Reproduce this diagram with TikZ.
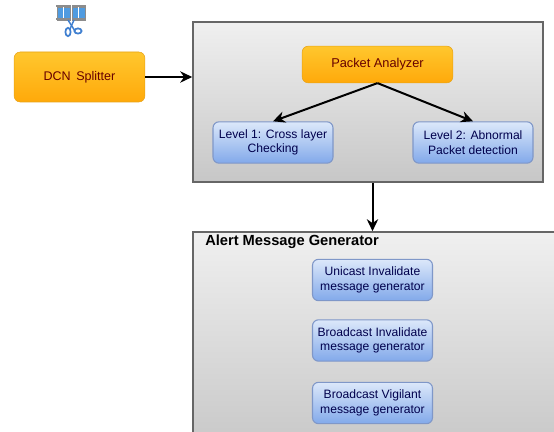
\documentclass[tikz,border=0pt]{standalone}
\usepackage{fontspec}
\setmainfont{Liberation Sans}
\usetikzlibrary{arrows.meta}
\definecolor{orangetop}{HTML}{FFC72E}
\definecolor{orangelow}{HTML}{FFA90A}
\definecolor{orangeline}{HTML}{E8A317}
\definecolor{bluetop}{HTML}{DCE8FA}
\definecolor{bluelow}{HTML}{82A9EA}
\definecolor{blueline}{HTML}{7F97C8}
\definecolor{filmblue}{HTML}{4F9BE0}
\definecolor{cutblue}{HTML}{3F7FD0}

\begin{document}
\begin{tikzpicture}[
  x=0.75pt, y=0.75pt,
  orangebox/.style={draw=orangeline, rounded corners=4.5pt, inner sep=0pt, top color=orangetop, bottom color=orangelow, text=red!40!black, align=center},
  bluebox/.style={draw=blueline, line width=0.8pt, rounded corners=4.5pt, inner sep=0pt, top color=bluetop, bottom color=bluelow, text=blue!30!black, align=center, font=\fontsize{9.1pt}{11pt}\selectfont, minimum width=90pt, minimum height=31pt},
  greybox/.style={draw=black!60, line width=1.2pt, inner sep=0pt, top color=black!6, bottom color=black!22},
  link/.style={draw=black, line width=1.5pt, -{Stealth[length=9pt,width=8.5pt]}},
  film/.style={fill=filmblue, draw=black!45, line width=0.5pt},
]

\clip (0,0) rectangle (554,432);
\fill [white] (0,0) rectangle (554,432);

% containers
\node [greybox, minimum width=262.5pt, minimum height=120pt] (analyzerbox) at (368,330) {};
\node [greybox, minimum width=300pt, minimum height=165pt] (alertbox) at (393,90) {};
\node [anchor=west, inner sep=0pt, font=\fontsize{11pt}{12pt}\selectfont\bfseries] (alerttitle) at (205,190) {Alert Message Generator};

% splitter icon
\begin{scope}[shift={(56,406)}]
	\draw [film] (1,6) rectangle (14,19);
	\draw [film] (16,6) rectangle (29,19);
	\fill [black!45] (0,19) rectangle (14.5,21);
	\fill [black!45] (15.5,19) rectangle (30,21);
	\fill [black!45] (0,6) rectangle (14.5,8);
	\fill [black!45] (15.5,6) rectangle (30,8);
	\draw [white, line width=0.6pt] (7.5,8) -- (7.5,19);
	\draw [white, line width=0.6pt] (22.5,8) -- (22.5,19);
	\draw [cutblue, line width=1.1pt] (12,6) -- (19,-5);
	\draw [cutblue, line width=1.1pt] (18,6) -- (14,-3);
	\draw [cutblue, line width=1.3pt] (12,-6) circle [x radius=2.6, y radius=4.2];
	\draw [cutblue, line width=1.3pt] (22,-5) circle [x radius=3.6, y radius=2.6];
\end{scope}

% boxes
\node [orangebox, minimum width=98pt, minimum height=37.5pt, font=\fontsize{9.4pt}{11pt}\selectfont] (splitter) at (79.5,355) {DCN\, Splitter};
\node [orangebox, minimum width=113pt, minimum height=27.5pt, font=\fontsize{9.6pt}{11pt}\selectfont] (analyzer) at (377.5,367.5) {Packet Analyzer};

\node [bluebox] (levelone) at (273,289.5) {Level 1: Cross layer\\Checking};
\node [bluebox] (leveltwo) at (473,289.5) {Level 2: Abnormal\\Packet detection};

\node [bluebox] (unicast) at (372.5,152) {Unicast Invalidate\\message generator};
\node [bluebox] (broadinv) at (372.5,91.5) {Broadcast Invalidate\\message generator};
\node [bluebox] (broadvig) at (372.5,29) {Broadcast Vigilant\\message generator};

% connectors
\draw [link] (splitter.east) -- (splitter.east -| analyzerbox.west);
\draw [link] (analyzer.south) -- (levelone.north);
\draw [link] (analyzer.south) -- (leveltwo.north);
\draw [link] (analyzerbox.south -| unicast.north) -- (alertbox.north -| unicast.north);

\end{tikzpicture}
\end{document}
